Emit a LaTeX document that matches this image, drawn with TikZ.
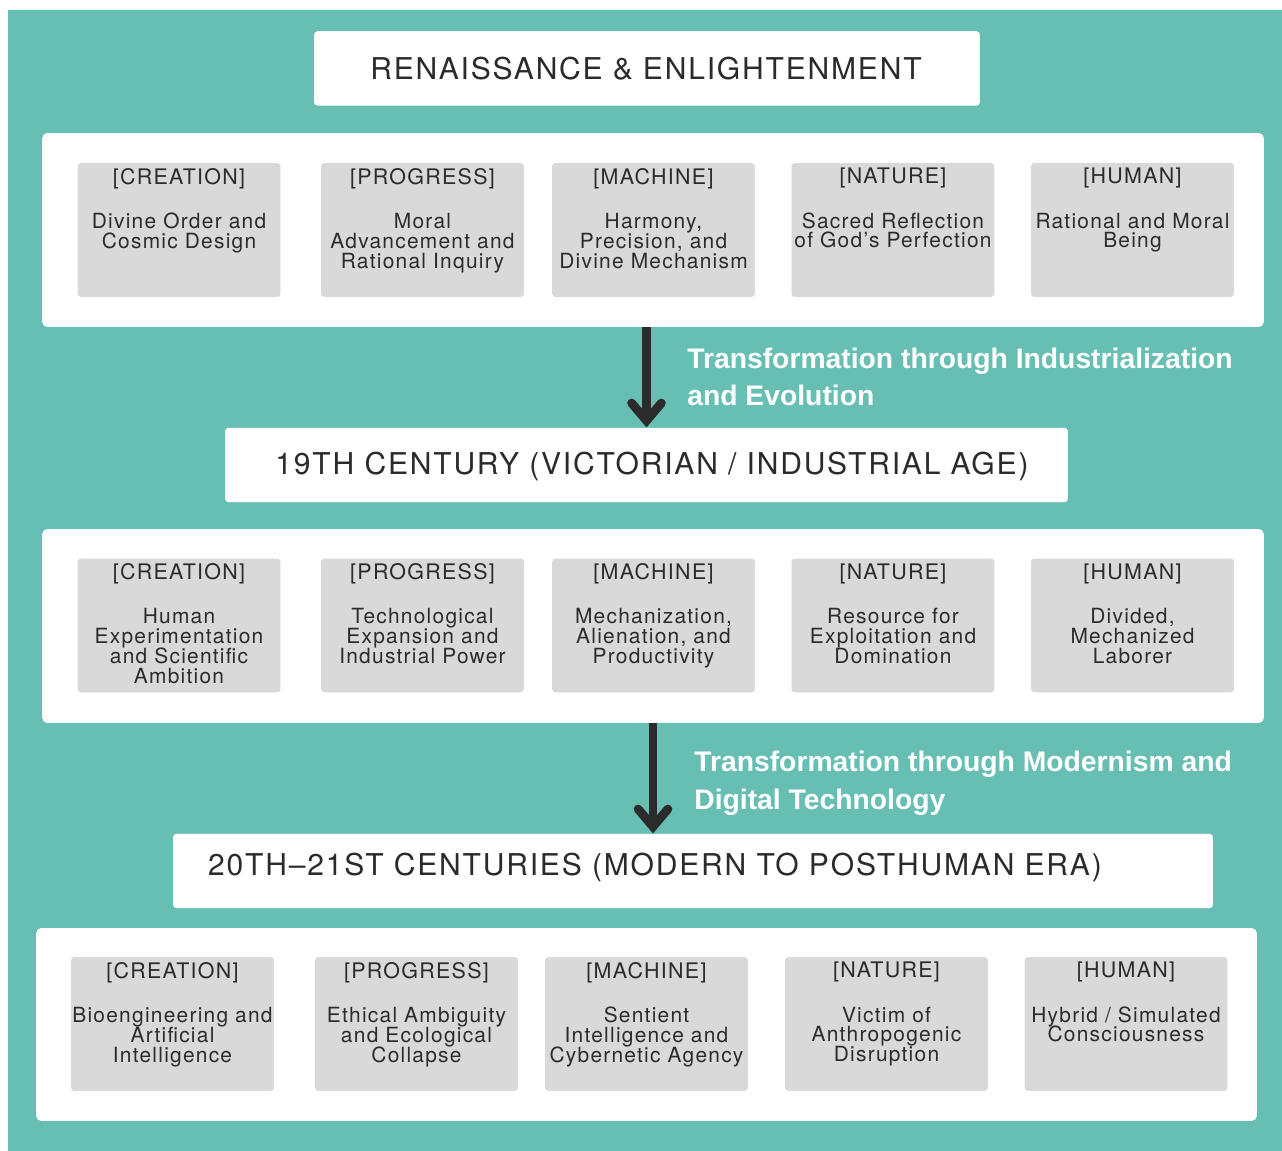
\documentclass[tikz,border=0pt]{standalone}
\usepackage{fontspec}
\setmainfont{TeX Gyre Heros}
\newfontfamily\cardfont[LetterSpace=6]{TeX Gyre Heros}
\newfontfamily\titlefont[LetterSpace=6]{TeX Gyre Heros}
\newfontfamily\labelfont{Liberation Sans}
\newcommand\cardtype{\cardfont\fontsize{11.9}{11.3}\selectfont\setlength{\lineskiplimit}{-20pt}}
\usetikzlibrary{arrows.meta}
\definecolor{tealbg}{HTML}{67BFB4}
\definecolor{cardgray}{HTML}{D9D9D9}
\definecolor{inkdark}{HTML}{2B2B2B}
\begin{document}
\begin{tikzpicture}[x=0.02cm, y=-0.02cm,
    panel/.style={fill=white, rounded corners=3pt, minimum width=24.44cm, minimum height=3.88cm, inner sep=0pt},
    era/.style={fill=white, rounded corners=2pt, minimum height=1.49cm, inner sep=0pt},
    eratext/.style={font=\titlefont\fontsize{17.1}{20}\selectfont, text=inkdark, inner sep=0pt},
    card/.style={fill=cardgray, rounded corners=2pt, minimum width=4.06cm, minimum height=2.68cm, inner sep=0pt},
    cardtext/.style={anchor=north, align=center, inner sep=0pt, text=inkdark, font=\cardtype},
    flow/.style={draw=inkdark, line width=5pt, -{Straight Barb[length=10pt,width=17pt,line cap=round]}},
    flowlabel/.style={anchor=west, align=left, text=white, font=\labelfont\bfseries\fontsize{16.1}{21.5}\selectfont, inner sep=0pt}
]
    % fons
    \useasboundingbox (0,0) rectangle (1282,1151);
    \fill[tealbg] (8,10) rectangle (1282,1151);

    % Renaissance
    \node[era, minimum width=13.32cm] (era1) at (647,68.5) {};
    \node[eratext] (era1txt) at (646,69) {RENAISSANCE \& ENLIGHTENMENT};
    \node[panel] (pan1) at (653,230) {};
    \foreach \xc/\head/\body [count=\i] in {
        179/CREATION/{Divine Order and\\Cosmic Design},
        422.5/PROGRESS/{Moral\\Advancement and\\Rational Inquiry},
        653.5/MACHINE/{Harmony,\\Precision, and\\Divine Mechanism},
        893/NATURE/{Sacred Reflection\\of God’s Perfection},
        1132.5/HUMAN/{Rational and Moral\\Being}} {
        \node[card] (ren\i) at (\xc,230) {};
        \node[cardtext] (ren\i txt) at ([yshift=-0.1cm]ren\i.north) {{\fontsize{12.2}{12}\selectfont[\head]}\\[14pt]\body};
    }

    % 19th century
    \node[era, minimum width=16.86cm] (era2) at (646.5,465) {};
    \node[eratext] (era2txt) at (652,466) {19TH CENTURY (VICTORIAN / INDUSTRIAL AGE)};
    \node[panel] (pan2) at (653,626) {};
    \foreach \xc/\head/\body [count=\i] in {
        179/CREATION/{Human\\Experimentation\\and Scientific\\Ambition},
        422.5/PROGRESS/{Technological\\Expansion and\\Industrial Power},
        653.5/MACHINE/{Mechanization,\\Alienation, and\\Productivity},
        893/NATURE/{Resource for\\Exploitation and\\Domination},
        1132.5/HUMAN/{Divided,\\Mechanized\\Laborer}} {
        \node[card] (vic\i) at (\xc,625.5) {};
        \node[cardtext] (vic\i txt) at ([yshift=-0.1cm]vic\i.north) {{\fontsize{12.2}{12}\selectfont[\head]}\\[14pt]\body};
    }

    % 20th-21st centuries
    \node[era, minimum width=20.8cm] (era3) at (693,871) {};
    \node[eratext] (era3txt) at (655,867) {20TH–21ST CENTURIES (MODERN TO POSTHUMAN ERA)};
    \node[panel, minimum width=24.42cm, minimum height=3.86cm] (pan3) at (646.5,1024.5) {};
    \foreach \xc/\head/\body [count=\i] in {
        172.5/CREATION/{Bioengineering and\\Artificial\\Intelligence},
        416.5/PROGRESS/{Ethical Ambiguity\\and Ecological\\Collapse},
        646.5/MACHINE/{Sentient\\Intelligence and\\Cybernetic Agency},
        886.5/NATURE/{Victim of\\Anthropogenic\\Disruption},
        1126/HUMAN/{Hybrid / Simulated\\Consciousness}} {
        \node[card] (mod\i) at (\xc,1024) {};
        \node[cardtext] (mod\i txt) at ([yshift=-0.1cm]mod\i.north) {{\fontsize{12.2}{12}\selectfont[\head]}\\[14pt]\body};
    }

    % transicions
    \draw[flow] (era2.north |- pan1.south) -- (era2.north);
    \node[flowlabel] (lab1) at (687,377) {Transformation through Industrialization\\and Evolution};
    \draw[flow] (pan2.south) -- (pan2.south |- era3.north);
    \node[flowlabel] (lab2) at (694,783) {Transformation through Modernism and\\Digital Technology};
\end{tikzpicture}
\end{document}
